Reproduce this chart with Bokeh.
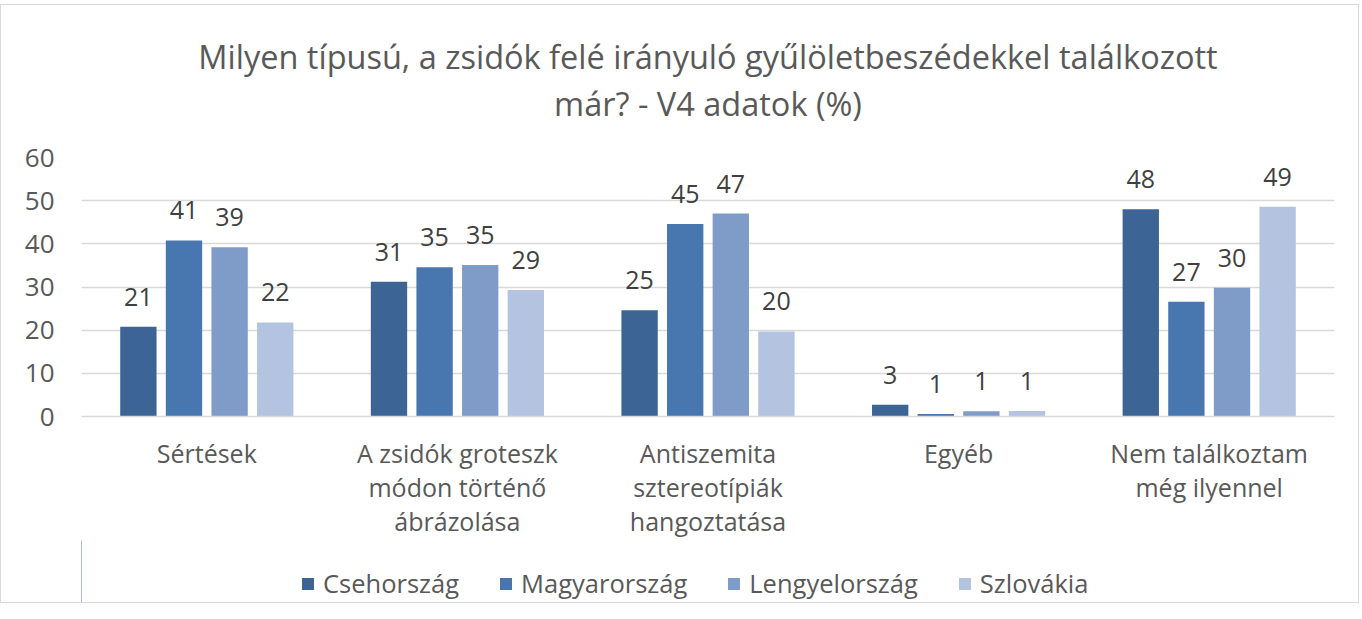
from bokeh.plotting import figure
from bokeh.layouts import column
from bokeh.models import (ColumnDataSource, Range1d, FactorRange, Legend, LegendItem,
                          CategoricalAxis, Title, CustomJSTickFormatter)
from bokeh.transform import dodge
from bokeh.core.properties import value
from bokeh.embed import file_html
from bokeh.resources import INLINE
import math

category_lines = [["Sértések"],
                  ["A zsidók groteszk", "módon történő", "ábrázolása"],
                  ["Antiszemita", "sztereotípiák", "hangoztatása"],
                  ["Egyéb"],
                  ["Nem találkoztam", "még ilyennel"]]
categories = [" ".join(l) for l in category_lines]
series = ["Csehország", "Magyarország", "Lengyelország", "Szlovákia"]
cseh = [20.8, 31.2, 24.6, 2.7, 48.0]
magyar = [40.8, 34.6, 44.6, 0.6, 26.6]
lengyel = [39.2, 35.1, 47.0, 1.2, 29.8]
szlovak = [21.8, 29.3, 19.7, 1.3, 48.6]
colors = ["#3C6494", "#4876AE", "#7F9CC8", "#B4C3DF"]
yticks = [0, 10, 20, 30, 40, 50, 60]
title_lines = ["Milyen típusú, a zsidók felé irányuló gyűlöletbeszédekkel találkozott",
               "már? - V4 adatok (%)"]

FONT = "Open Sans"
TXT = "#595959"

p = figure(x_range=FactorRange(*categories), y_range=Range1d(0, 60),
           frame_width=1253, frame_height=259, output_backend="svg",
           toolbar_location=None,
           min_border_left=80, min_border_right=24, min_border_top=152,
           min_border_bottom=0, title=None)
p.outline_line_color = None
p.background_fill_color = "white"
p.border_fill_color = "white"

# spacer (closest to the frame), then line 2, then line 1
spacer = Title(text=" ", text_font=FONT, text_font_size="20px", standoff=3)
t2 = Title(text=title_lines[1], align="center", text_font=FONT, text_font_size="32.5px",
           text_font_style="normal", text_color=TXT, standoff=0)
t1 = Title(text=title_lines[0], align="center", text_font=FONT, text_font_size="32.5px",
           text_font_style="normal", text_color=TXT, standoff=0)
p.add_layout(spacer, "above")
p.add_layout(t2, "above")
p.add_layout(t1, "above")

def lab(v):
    return str(int(math.floor(v + 0.5)))

keys = ["cseh", "magyar", "lengyel", "szlovak"]
vals = [cseh, magyar, lengyel, szlovak]
data = dict(cat=categories)
for k, v in zip(keys, vals):
    data[k] = v
    data["l_" + k] = [lab(x) for x in v]
src = ColumnDataSource(data)

offsets = [-0.273, -0.091, 0.091, 0.273]
for k, c, o in zip(keys, colors, offsets):
    p.vbar(x=dodge("cat", o, range=p.x_range), top=k, width=0.145, source=src,
           fill_color=c, line_color=None)
    p.text(x=dodge("cat", o, range=p.x_range), y=k, text="l_" + k, source=src,
           text_align="center", text_baseline="bottom", y_offset=-21,
           text_font=value(FONT), text_font_size="25px", text_color="#404040")

p.yaxis.ticker = yticks
p.yaxis.axis_line_color = None
p.yaxis.major_tick_line_color = None
p.yaxis.minor_tick_line_color = None
p.yaxis.major_label_text_font = FONT
p.yaxis.major_label_text_font_size = "26px"
p.yaxis.major_label_text_color = TXT
p.yaxis.major_label_standoff = 21

def style_xaxis(ax, standoff, line_no):
    ax.major_tick_line_color = None
    ax.minor_tick_line_color = None
    ax.major_label_text_font = FONT
    ax.major_label_text_font_size = "25px"
    ax.major_label_text_color = TXT
    ax.major_label_standoff = standoff
    ax.major_label_orientation = "horizontal"
    mapping = {c: (l[line_no] if len(l) > line_no else "")
               for c, l in zip(categories, category_lines)}
    ax.formatter = CustomJSTickFormatter(args=dict(m=mapping),
                                         code="return m[tick] !== undefined ? m[tick] : '';")

xa = p.xaxis[0]
style_xaxis(xa, 13, 0)
xa.axis_line_color = "#D9D9D9"
xa.axis_line_width = 1.5

for i in (1, 2):
    ax = CategoricalAxis()
    style_xaxis(ax, -9, i)
    ax.axis_line_color = None
    p.add_layout(ax, "below")

p.xgrid.grid_line_color = None
p.ygrid.grid_line_color = "#D9D9D9"
p.ygrid.grid_line_width = 1.5

# legend strip below the chart (swatch renderers sit outside the visible range)
pl = figure(width=1357, height=62, x_range=Range1d(0, 1), y_range=Range1d(0, 1),
            output_backend="svg", toolbar_location=None, min_border=0,
            x_axis_location=None, y_axis_location=None)
pl.outline_line_color = None
pl.grid.visible = False
pl.background_fill_color = "white"
pl.border_fill_color = "white"
items = []
for s, c in zip(series, colors):
    r = pl.vbar(x=[-5], top=[1], width=0.1, fill_color=c, line_color=None)
    items.append(LegendItem(label=s, renderers=[r]))
legend = Legend(items=items, orientation="horizontal", location=(219, 2),
                label_text_font=FONT, label_text_font_size="25.5px", label_text_color=TXT,
                glyph_width=15, glyph_height=15, label_standoff=8, spacing=39,
                border_line_color=None, background_fill_alpha=0, margin=0, padding=0)
pl.add_layout(legend, "center")

layout = column(p, pl, spacing=0)
layout.margin = (4, 0, 0, 0)
layout.styles = {"border": "1px solid #D9D9D9"}

open("out.html", "w").write(file_html(layout, INLINE))
